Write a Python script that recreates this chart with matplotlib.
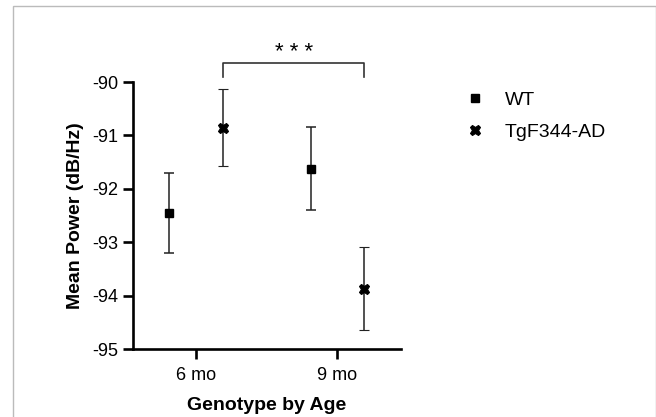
import matplotlib
matplotlib.use("Agg")
import matplotlib.pyplot as plt
from matplotlib.patches import Rectangle
from matplotlib.lines import Line2D

plt.rcParams['font.family'] = ['Liberation Sans', 'DejaVu Sans']

categories = ["6 mo", "9 mo"]
groups = ["WT", "TgF344-AD"]
wt_mean = [-92.45, -91.62]
wt_sem = [0.75, 0.77]
tg_mean = [-90.86, -93.87]
tg_sem = [0.72, 0.78]
sig_label = "* * *"

fig = plt.figure(figsize=(6.56, 4.17), dpi=100)
ax = fig.add_axes([132.5/656, 1-349/417, (401-132.5)/656, (349-82)/417])

xpos = list(range(len(categories)))
off = 0.19
ax.errorbar([x - off for x in xpos], wt_mean, yerr=wt_sem, fmt='s', color='black',
            ecolor='#222222', elinewidth=1.1, capsize=3.8, capthick=1.1, markersize=5.5,
            zorder=3)
ax.errorbar([x + off for x in xpos], tg_mean, yerr=tg_sem, fmt='X', color='black',
            ecolor='#222222', elinewidth=1.1, capsize=3.8, capthick=1.1, markersize=7.5,
            markeredgewidth=0.8, zorder=3)

ax.set_xlim(-0.45, 1.45)
ax.set_ylim(-95, -90)
ax.set_xticks(xpos)
ax.set_xticklabels(categories)
ax.set_yticks([-95, -94, -93, -92, -91, -90])
ax.set_yticklabels([str(v) for v in [-95, -94, -93, -92, -91, -90]])
for s in ['top', 'right']:
    ax.spines[s].set_visible(False)
for s in ['left', 'bottom']:
    ax.spines[s].set_linewidth(1.9)
ax.tick_params(axis='both', width=1.9, length=7.5, labelsize=13)
ax.tick_params(axis='x', pad=5.5)
ax.tick_params(axis='y', pad=2.5)
ax.set_xlabel("Genotype by Age", fontsize=14, fontweight='bold', labelpad=9)
ax.set_ylabel("Mean Power (dB/Hz)", fontsize=14, fontweight='bold', labelpad=6)

# significance bracket
x1, x2 = xpos[0] + off, xpos[1] + off
yb, yt = -89.905, -89.65
ax.plot([x1, x1, x2, x2], [yb, yt, yt, yb], color='#333333', lw=1.2, clip_on=False)
ax.text((x1 + x2) / 2, -89.45, sig_label, ha='center', va='center', fontsize=16,
        clip_on=False)

handles = [Line2D([], [], ls='none', marker='s', color='black', markersize=5.5),
           Line2D([], [], ls='none', marker='X', color='black', markersize=7.5, markeredgewidth=0.8)]
leg = fig.legend(handles, groups, loc='upper left', bbox_to_anchor=(460/656, 1-91/417),
                 frameon=False, fontsize=14, handletextpad=0.8, labelspacing=0.75,
                 borderaxespad=0, borderpad=0, handlelength=1.5)

fig.patches.append(Rectangle((12.5/656, -0.1), (655.5-12.5)/656, 1.1 - 6.5/417,
                             transform=fig.transFigure, fill=False, edgecolor='#bbbbbb', lw=1.0))

fig.savefig("out.png", dpi=100)
